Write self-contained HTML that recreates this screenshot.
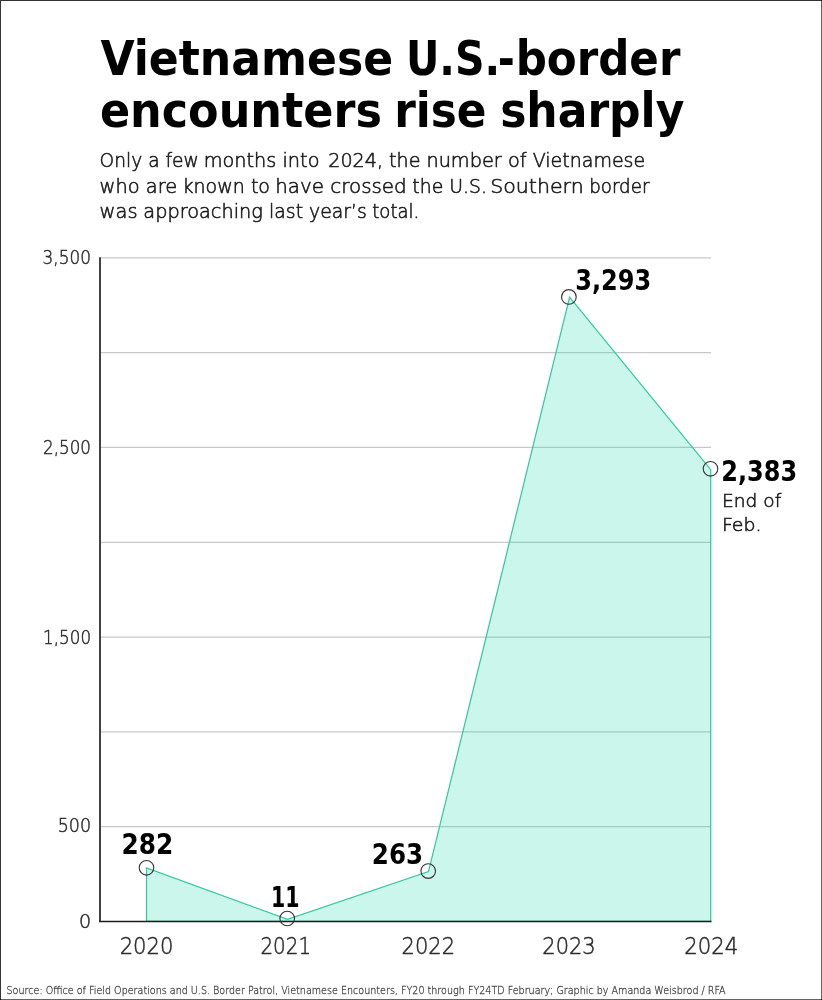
<!DOCTYPE html>
<html lang="en">
<head>
<meta charset="utf-8">
<title>Vietnamese U.S.-border encounters rise sharply</title>
<style>
  html,body{margin:0;padding:0;background:#fff;}
  body{width:822px;height:1000px;overflow:hidden;position:relative;}
  svg{display:block;position:absolute;left:0;top:0;}
  text{font-family:"Liberation Sans",sans-serif;}
  .b{font-family:"DejaVu Sans Condensed","DejaVu Sans","Liberation Sans",sans-serif;font-stretch:condensed;font-weight:700;fill:#000;}
  .l{font-family:"DejaVu Sans","Liberation Sans",sans-serif;font-weight:200;fill:#1a1a1a;stroke:#1a1a1a;stroke-width:0.6px;}
  .a{font-family:"DejaVu Sans","Liberation Sans",sans-serif;font-weight:200;fill:#2b2b2b;stroke:#2b2b2b;stroke-width:0.5px;}
  .s{font-family:"DejaVu Sans","Liberation Sans",sans-serif;font-weight:200;fill:#444;stroke:#444;stroke-width:0.3px;}
</style>
</head>
<body>
<svg width="822" height="1000" viewBox="0 0 822 1000">
  <rect x="0" y="0" width="822" height="1000" fill="#fff"/>
  <!-- frame -->
  <g shape-rendering="crispEdges">
    <rect x="0" y="0" width="822" height="1" fill="#323232"/>
    <rect x="0" y="0" width="1" height="1000" fill="#363636"/>
    <rect x="821" y="0" width="1" height="1000" fill="#646464"/>
    <rect x="0" y="999" width="822" height="1" fill="#646464"/>
    <rect x="821" y="0" width="1" height="1" fill="#111"/>
    <rect x="0" y="999" width="1" height="1" fill="#111"/>
    <rect x="821" y="999" width="1" height="1" fill="#111"/>
  </g>

  <!-- gridlines -->
  <g stroke="#c8c8c8" stroke-width="1.2">
    <line x1="100" x2="711" y1="826.6" y2="826.6"/>
    <line x1="100" x2="711" y1="731.9" y2="731.9"/>
    <line x1="100" x2="711" y1="637.2" y2="637.2"/>
    <line x1="100" x2="711" y1="542.35" y2="542.35"/>
    <line x1="100" x2="711" y1="447.45" y2="447.45"/>
    <line x1="100" x2="711" y1="352.65" y2="352.65"/>
    <line x1="100" x2="711" y1="257.8" y2="257.8"/>
  </g>

  <!-- area -->
  <polygon points="146.5,921.45 146.5,868.0 287.5,919.4 428.5,871.6 569.6,297.1 710.7,469.6 710.7,921.45" fill="#13d6a9" fill-opacity="0.22" stroke="none"/>
  <polygon points="146.5,921.45 146.5,868.0 287.5,919.4 428.5,871.6 569.6,297.1 710.7,469.6 710.7,921.45" fill="none" stroke="#36c8a2" stroke-width="1.25" stroke-linejoin="miter"/>

  <!-- axes -->
  <line x1="100" x2="100" y1="257.3" y2="922" stroke="#424242" stroke-width="2"/>
  <line x1="99" x2="711.5" y1="921.5" y2="921.5" stroke="#1c1c1c" stroke-width="1.3"/>

  <!-- points -->
  <g fill="none" stroke="#333" stroke-width="1.1">
    <circle cx="146.5" cy="867.8" r="7.3"/>
    <circle cx="287.2" cy="918.5" r="7.3"/>
    <circle cx="428.2" cy="871.1" r="7.3"/>
    <circle cx="568.9" cy="296.9" r="7.3"/>
    <circle cx="710.5" cy="468.8" r="7.3"/>
  </g>

  <!-- title -->
  <text class="b" x="100.45" y="74.9" font-size="48.6" textLength="308.08" lengthAdjust="spacingAndGlyphs">Vietnamese&#160;</text>
  <text class="b" x="405.95" y="74.9" font-size="48.6" textLength="94.22" lengthAdjust="spacingAndGlyphs">U.S.</text>
  <text class="b" x="497.65" y="74.9" font-size="48.6" textLength="17.05" lengthAdjust="spacingAndGlyphs">-</text>
  <text class="b" x="515.65" y="74.9" font-size="48.6" textLength="164.74" lengthAdjust="spacingAndGlyphs">border</text>
  <text class="b" x="99.90" y="126.8" font-size="48.6" textLength="297.53" lengthAdjust="spacingAndGlyphs">encounters&#160;</text>
  <text class="b" x="394.25" y="126.8" font-size="48.6" textLength="107.53" lengthAdjust="spacingAndGlyphs">rise&#160;</text>
  <text class="b" x="500.15" y="126.8" font-size="48.6" textLength="184.25" lengthAdjust="spacingAndGlyphs">sharply</text>
  <!-- subtitle -->
  <text class="l" x="99.55" y="167.2" font-size="19.9" textLength="105.11" lengthAdjust="spacingAndGlyphs">Only a few&#160;</text>
  <text class="l" x="203.70" y="167.2" font-size="19.9" textLength="121.88" lengthAdjust="spacingAndGlyphs">months into&#160;</text>
  <text class="l" x="328.30" y="167.2" font-size="19.9" textLength="98.18" lengthAdjust="spacingAndGlyphs">2024, the&#160;</text>
  <text class="l" x="426.40" y="167.2" font-size="19.9" textLength="106.24" lengthAdjust="spacingAndGlyphs">number of&#160;</text>
  <text class="l" x="532.75" y="167.2" font-size="19.9" textLength="112.42" lengthAdjust="spacingAndGlyphs">Vietnamese</text>
  <text class="l" x="99.60" y="192.6" font-size="19.9" textLength="83.83" lengthAdjust="spacingAndGlyphs">who are&#160;</text>
  <text class="l" x="182.55" y="192.6" font-size="19.9" textLength="93.48" lengthAdjust="spacingAndGlyphs">known to&#160;</text>
  <text class="l" x="275.20" y="192.6" font-size="19.9" textLength="137.87" lengthAdjust="spacingAndGlyphs">have crossed&#160;</text>
  <text class="l" x="412.35" y="192.6" font-size="19.9" textLength="80.51" lengthAdjust="spacingAndGlyphs">the U.S.&#160;</text>
  <text class="l" x="490.20" y="192.6" font-size="19.9" textLength="100.08" lengthAdjust="spacingAndGlyphs">Southern&#160;</text>
  <text class="l" x="589.15" y="192.6" font-size="19.9" textLength="60.25" lengthAdjust="spacingAndGlyphs">border</text>
  <text class="l" x="99.60" y="218.0" font-size="19.9" textLength="44.13" lengthAdjust="spacingAndGlyphs">was&#160;</text>
  <text class="l" x="143.35" y="218.0" font-size="19.9" textLength="125.69" lengthAdjust="spacingAndGlyphs">approaching&#160;</text>
  <text class="l" x="269.05" y="218.0" font-size="19.9" textLength="103.85" lengthAdjust="spacingAndGlyphs">last year’s&#160;</text>
  <text class="l" x="372.25" y="218.0" font-size="19.9" textLength="47.11" lengthAdjust="spacingAndGlyphs">total.</text>
  <!-- y-axis labels -->
  <text class="a" x="42.60" y="263.7" font-size="18.6" textLength="48.38" lengthAdjust="spacingAndGlyphs">3,500</text>
  <text class="a" x="43.10" y="453.6" font-size="18.6" textLength="47.87" lengthAdjust="spacingAndGlyphs">2,500</text>
  <text class="a" x="43.10" y="644.0" font-size="18.6" textLength="47.95" lengthAdjust="spacingAndGlyphs">1,500</text>
  <text class="a" x="57.70" y="832.2" font-size="18.6" textLength="33.41" lengthAdjust="spacingAndGlyphs">500</text>
  <text class="a" x="79.10" y="927.5" font-size="18.6" textLength="12.16" lengthAdjust="spacingAndGlyphs">0</text>
  <!-- x-axis labels -->
  <text class="a" x="119.65" y="954.0" font-size="22.6" textLength="53.80" lengthAdjust="spacingAndGlyphs">2020</text>
  <text class="a" x="260.45" y="954.0" font-size="22.6" textLength="50.67" lengthAdjust="spacingAndGlyphs">2021</text>
  <text class="a" x="401.55" y="954.0" font-size="22.6" textLength="53.49" lengthAdjust="spacingAndGlyphs">2022</text>
  <text class="a" x="542.35" y="954.0" font-size="22.6" textLength="53.30" lengthAdjust="spacingAndGlyphs">2023</text>
  <text class="a" x="684.35" y="954.0" font-size="22.6" textLength="54.04" lengthAdjust="spacingAndGlyphs">2024</text>
  <!-- data labels -->
  <text class="b" x="121.60" y="853.9" font-size="27.8" textLength="51.79" lengthAdjust="spacingAndGlyphs">282</text>
  <text class="b" x="271.05" y="907.3" font-size="27.8" textLength="28.51" lengthAdjust="spacingAndGlyphs">11</text>
  <text class="b" x="371.80" y="864.1" font-size="27.8" textLength="51.36" lengthAdjust="spacingAndGlyphs">263</text>
  <text class="b" x="575.20" y="289.9" font-size="27.8" textLength="76.01" lengthAdjust="spacingAndGlyphs">3,293</text>
  <text class="b" x="721.30" y="481.2" font-size="27.8" textLength="75.84" lengthAdjust="spacingAndGlyphs">2,383</text>
  <!-- note -->
  <text class="l" x="722.00" y="506.8" font-size="18.5" textLength="65.15" lengthAdjust="spacingAndGlyphs">End of&#160;</text>
  <text class="l" x="722.00" y="530.7" font-size="18.5" textLength="39.50" lengthAdjust="spacingAndGlyphs">Feb.</text>
  <!-- source -->
  <text class="s" x="6.55" y="993.6" font-size="10.6" textLength="719.10" lengthAdjust="spacingAndGlyphs">Source: Office of Field Operations and U.S. Border Patrol, Vietnamese Encounters, FY20 through FY24TD February; Graphic by Amanda Weisbrod / RFA</text>
</svg>
</body>
</html>
